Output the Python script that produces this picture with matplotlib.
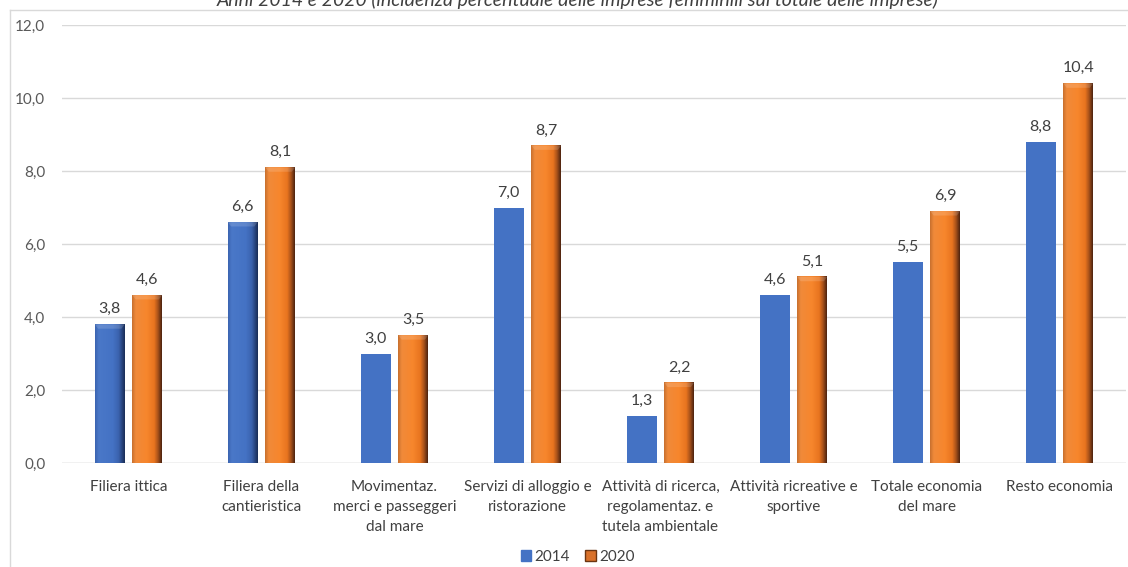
import numpy as np
import matplotlib.pyplot as plt
from matplotlib.lines import Line2D
from matplotlib.colors import LinearSegmentedColormap

plt.rcParams['font.family'] = ['Lato', 'DejaVu Sans']

categorie = ["Filiera ittica",
             "Filiera della\ncantieristica",
             "Movimentaz.\nmerci e passeggeri\ndal mare",
             "Servizi di alloggio e\nristorazione",
             "Attività di ricerca,\nregolamentaz. e\ntutela ambientale",
             "Attività ricreative e\nsportive",
             "Totale economia\ndel mare",
             "Resto economia"]
v2014 = [3.8, 6.6, 3.0, 7.0, 1.3, 4.6, 5.5, 8.8]
v2020 = [4.6, 8.1, 3.5, 8.7, 2.2, 5.1, 6.9, 10.4]
# solo le prime due barre del 2014 hanno l'effetto rilievo
rilievo2014 = [True, True, False, False, False, False, False, False]
yticks = [0, 2, 4, 6, 8, 10, 12]

blu = "#4472C4"

# sfumature orizzontali per l'effetto rilievo
cm_arancio = LinearSegmentedColormap.from_list(
    "ar", [(0, "#c8702f"), (0.12, "#f08a3a"), (0.5, "#f7862c"),
           (0.75, "#e8741f"), (0.88, "#a4501a"), (1, "#4e2410")])
cm_blu = LinearSegmentedColormap.from_list(
    "bl", [(0, "#3b64b0"), (0.12, "#4a78c8"), (0.6, "#4472c4"),
           (0.8, "#3a62ad"), (0.92, "#26427a"), (1, "#1a2e58")])

fig = plt.figure(figsize=(11.28, 5.67), dpi=100)
ax = fig.add_axes([62 / 1128, 1 - 463 / 567, (1126 - 62) / 1128, (463 - 25) / 567])

x = np.arange(len(categorie))
w = 0.225
off = 0.141


def barra_rilievo(xc, h, cmap):
    grad = np.linspace(0, 1, 64).reshape(1, -1)
    ax.imshow(grad, cmap=cmap, aspect='auto', zorder=3,
              extent=[xc - w / 2, xc + w / 2, 0, h], interpolation='bilinear')
    # bordo superiore smussato, appena più chiaro
    cap = 0.12
    ax.fill([xc - w / 2, xc + w / 2, xc + w / 2 - 0.025, xc - w / 2 + 0.025],
            [h, h, h - cap, h - cap], color="white", alpha=0.15, zorder=4, lw=0)


for i in x:
    xb = i - off
    if rilievo2014[i]:
        barra_rilievo(xb, v2014[i], cm_blu)
    else:
        ax.bar(xb, v2014[i], w, color=blu, zorder=3)
    barra_rilievo(i + off, v2020[i], cm_arancio)
    ax.text(xb, v2014[i] + 0.22, f"{v2014[i]:.1f}".replace(".", ","),
            ha='center', va='bottom', fontsize=11.5, color="#404040")
    ax.text(i + off, v2020[i] + 0.22, f"{v2020[i]:.1f}".replace(".", ","),
            ha='center', va='bottom', fontsize=11.5, color="#404040")

ax.set_xlim(-0.5, 7.5)
ax.set_ylim(0, 12)
ax.set_yticks(yticks)
ax.set_yticklabels([f"{t:.1f}".replace(".", ",") for t in yticks], fontsize=11, color="#595959")
ax.set_xticks(x)
ax.set_xticklabels(categorie, fontsize=11, color="#404040", linespacing=1.55)
ax.tick_params(length=0, pad=12)
ax.grid(axis='y', color="#d9d9d9", lw=1, zorder=0)
for s in ax.spines.values():
    s.set_visible(False)
ax.axhline(0, color="#d9d9d9", lw=1, zorder=2)

# titolo (in parte tagliato in alto)
fig.text(0.512, 1.0, "Anni 2014 e 2020 (incidenza percentuale delle imprese femminili sul totale delle imprese)",
         ha='center', va='center', fontsize=14, style='italic', color="#404040")

# cornice del grafico
fig.add_artist(Line2D([10 / 1128, 1], [1 - 10 / 567] * 2, color="#d9d9d9", lw=1))
fig.add_artist(Line2D([10 / 1128] * 2, [0, 1 - 10 / 567], color="#d9d9d9", lw=1))

handles = [plt.Rectangle((0, 0), 1, 1, color=blu),
           plt.Rectangle((0, 0), 1, 1, color="#d9712a", ec="#6b3512")]
fig.legend(handles, ["2014", "2020"], loc='center', bbox_to_anchor=(0.512, 1 - 557 / 567),
           ncol=2, frameon=False, fontsize=11, handlelength=0.7, handleheight=0.7,
           handletextpad=0.2, columnspacing=1.0, labelcolor="#404040")

fig.savefig("out.png", dpi=100)
